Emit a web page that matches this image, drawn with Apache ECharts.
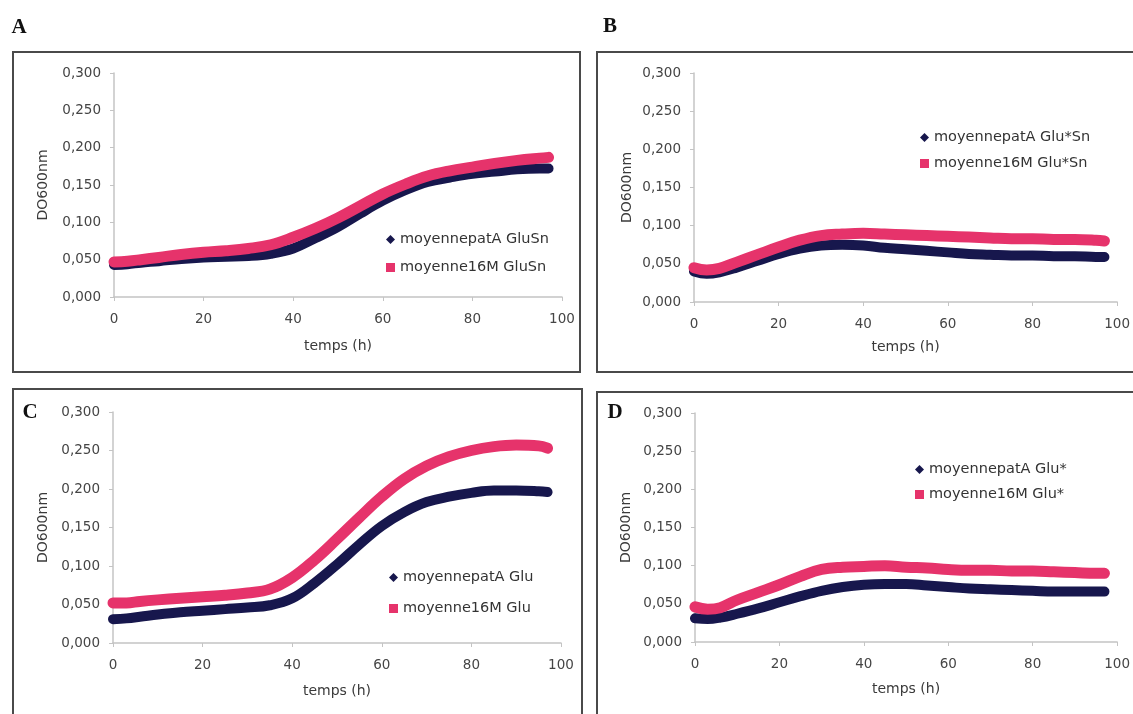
<!DOCTYPE html>
<html><head><meta charset="utf-8">
<script src="https://cdn.jsdelivr.net/npm/echarts@6/dist/echarts.min.js"></script>
<style>html,body{margin:0;padding:0;background:#fff}#c{width:1133px;height:714px}</style>
</head><body><div id="c"></div>
<script>
// time (h)
const T = [0,3,6,10,15,20,25,30,35,40,45,50,55,60,65,70,75,80,85,90,95,97];
// Panel A (GluSn)
const A_patA = [.043,.044,.046,.048,.051,.053,.054,.055,.058,.065,.079,.094,.112,.129,.143,.154,.160,.165,.168,.171,.172,.172];
const A_16M  = [.047,.048,.050,.053,.057,.060,.062,.065,.070,.080,.092,.106,.122,.138,.151,.162,.169,.174,.179,.183,.186,.187];
// Panel B (Glu*Sn)
const B_patA = [.040,.037,.039,.045,.054,.063,.070,.074,.075,.074,.071,.069,.067,.065,.063,.062,.061,.061,.060,.060,.059,.059];
const B_16M  = [.045,.042,.044,.052,.062,.072,.081,.087,.089,.090,.089,.088,.087,.086,.085,.084,.083,.083,.082,.082,.081,.080];
// Panel C (Glu)
const C_patA = [.031,.032,.034,.037,.040,.042,.044,.046,.049,.058,.078,.102,.128,.152,.170,.183,.190,.195,.198,.198,.197,.196];
const C_16M  = [.052,.052,.054,.056,.058,.060,.062,.065,.070,.085,.108,.135,.163,.190,.213,.230,.242,.250,.255,.257,.256,.253];
// Panel D (Glu*)
const D_patA = [.031,.030,.032,.037,.044,.052,.060,.067,.072,.075,.076,.076,.074,.072,.070,.069,.068,.067,.066,.066,.066,.066];
const D_16M  = [.046,.043,.045,.055,.065,.075,.086,.095,.098,.099,.100,.098,.097,.095,.094,.094,.093,.093,.092,.091,.090,.090];

const names = [
  ['moyennepatA GluSn','moyenne16M GluSn'],
  ['moyennepatA Glu*Sn','moyenne16M Glu*Sn'],
  ['moyennepatA Glu','moyenne16M Glu'],
  ['moyennepatA Glu*','moyenne16M Glu*']
];
const panelLetters = ['A','B','C','D'];

const NAVY = '#17174d', PINK = '#e6336b';
const FONT = 'DejaVu Sans';

const grids = [
  {left:114, top:73, width:448, height:224},
  {left:694, top:73, width:426, height:229},
  {left:113, top:412, width:448, height:231},
  {left:695, top:413, width:425, height:229}
];
const xNameGap = [42,38,41,40];
const yNameGap = [64,60,63,62];
const legendPos = [
  {left:386, top:232, itemGap:13},
  {left:920, top:130, itemGap:11},
  {left:389, top:570, itemGap:16},
  {left:915, top:462, itemGap:10}
];
const dataSets = [[A_patA,A_16M],[B_patA,B_16M],[C_patA,C_16M],[D_patA,D_16M]];

const xAxes = [], yAxes = [], series = [], legends = [];
for (let i=0;i<4;i++){
  xAxes.push({
    gridIndex:i, type:'value', min:0, max:100, interval:20,
    name:'temps (h)', nameLocation:'middle', nameGap:xNameGap[i],
    nameTextStyle:{fontFamily:FONT, fontSize:14, color:'#3a3a3a'},
    axisLine:{lineStyle:{color:'#c4c4c4', width:1.5}},
    axisTick:{show:true, length:4, lineStyle:{color:'#c4c4c4'}},
    axisLabel:{fontFamily:FONT, fontSize:13.5, color:'#454545', margin:15},
    splitLine:{show:false}
  });
  yAxes.push({
    gridIndex:i, type:'value', min:0, max:0.3, interval:0.05,
    name:'DO600nm', nameLocation:'middle', nameGap:yNameGap[i], nameRotate:90,
    nameTextStyle:{fontFamily:FONT, fontSize:14, color:'#3a3a3a'},
    axisLine:{show:true, lineStyle:{color:'#c4c4c4', width:1.5}},
    axisTick:{show:true, length:4, lineStyle:{color:'#c4c4c4'}},
    axisLabel:{fontFamily:FONT, fontSize:13.5, color:'#454545', margin:13,
      formatter:v=>v.toFixed(3).replace('.',',')},
    splitLine:{show:false}
  });
  const cols = [NAVY, PINK];
  for (let s=0;s<2;s++){
    series.push({
      name:names[i][s], type:'line', xAxisIndex:i, yAxisIndex:i,
      data:T.map((t,k)=>[t, dataSets[i][s][k]]),
      smooth:0.4, showSymbol:false, symbol: s===0?'diamond':'rect',
      color:cols[s],
      lineStyle:{color:cols[s], width: s===0?10:11, cap:'round', join:'round'},
      z: 2+s, animation:false
    });
  }
  legends.push({
    orient:'vertical', left:legendPos[i].left, top:legendPos[i].top,
    itemGap:legendPos[i].itemGap, padding:0, itemWidth:9, itemHeight:9,
    selectedMode:false,
    textStyle:{fontFamily:FONT, fontSize:14.5, color:'#333'},
    data:[{name:names[i][0], icon:'diamond', itemStyle:{color:NAVY}},
          {name:names[i][1], icon:'rect', itemStyle:{color:PINK}}]
  });
}

const graphic = [
  {type:'rect', shape:{x:13,y:52,width:567,height:320}, style:{fill:'none', stroke:'#4a4a4a', lineWidth:2}, z:-1},
  {type:'rect', shape:{x:597,y:52,width:560,height:320}, style:{fill:'none', stroke:'#4a4a4a', lineWidth:2}, z:-1},
  {type:'rect', shape:{x:13,y:389,width:569,height:340}, style:{fill:'none', stroke:'#4a4a4a', lineWidth:2}, z:-1},
  {type:'rect', shape:{x:597,y:392,width:560,height:340}, style:{fill:'none', stroke:'#4a4a4a', lineWidth:2}, z:-1},
];
const letterPos = [[19,28],[610,27],[30,413],[615,413]];
for (let i=0;i<4;i++){
  graphic.push({type:'text', x:letterPos[i][0], y:letterPos[i][1],
    style:{text:panelLetters[i], font:'bold 21px "Liberation Serif"', fill:'#111',
      textAlign:'center', textVerticalAlign:'middle'}});
}

const chart = echarts.init(document.getElementById('c'));
chart.setOption({
  animation:false,
  backgroundColor:'#fff',
  grid:grids, xAxis:xAxes, yAxis:yAxes, series:series, legend:legends, graphic:graphic
});
</script>
</body></html>
